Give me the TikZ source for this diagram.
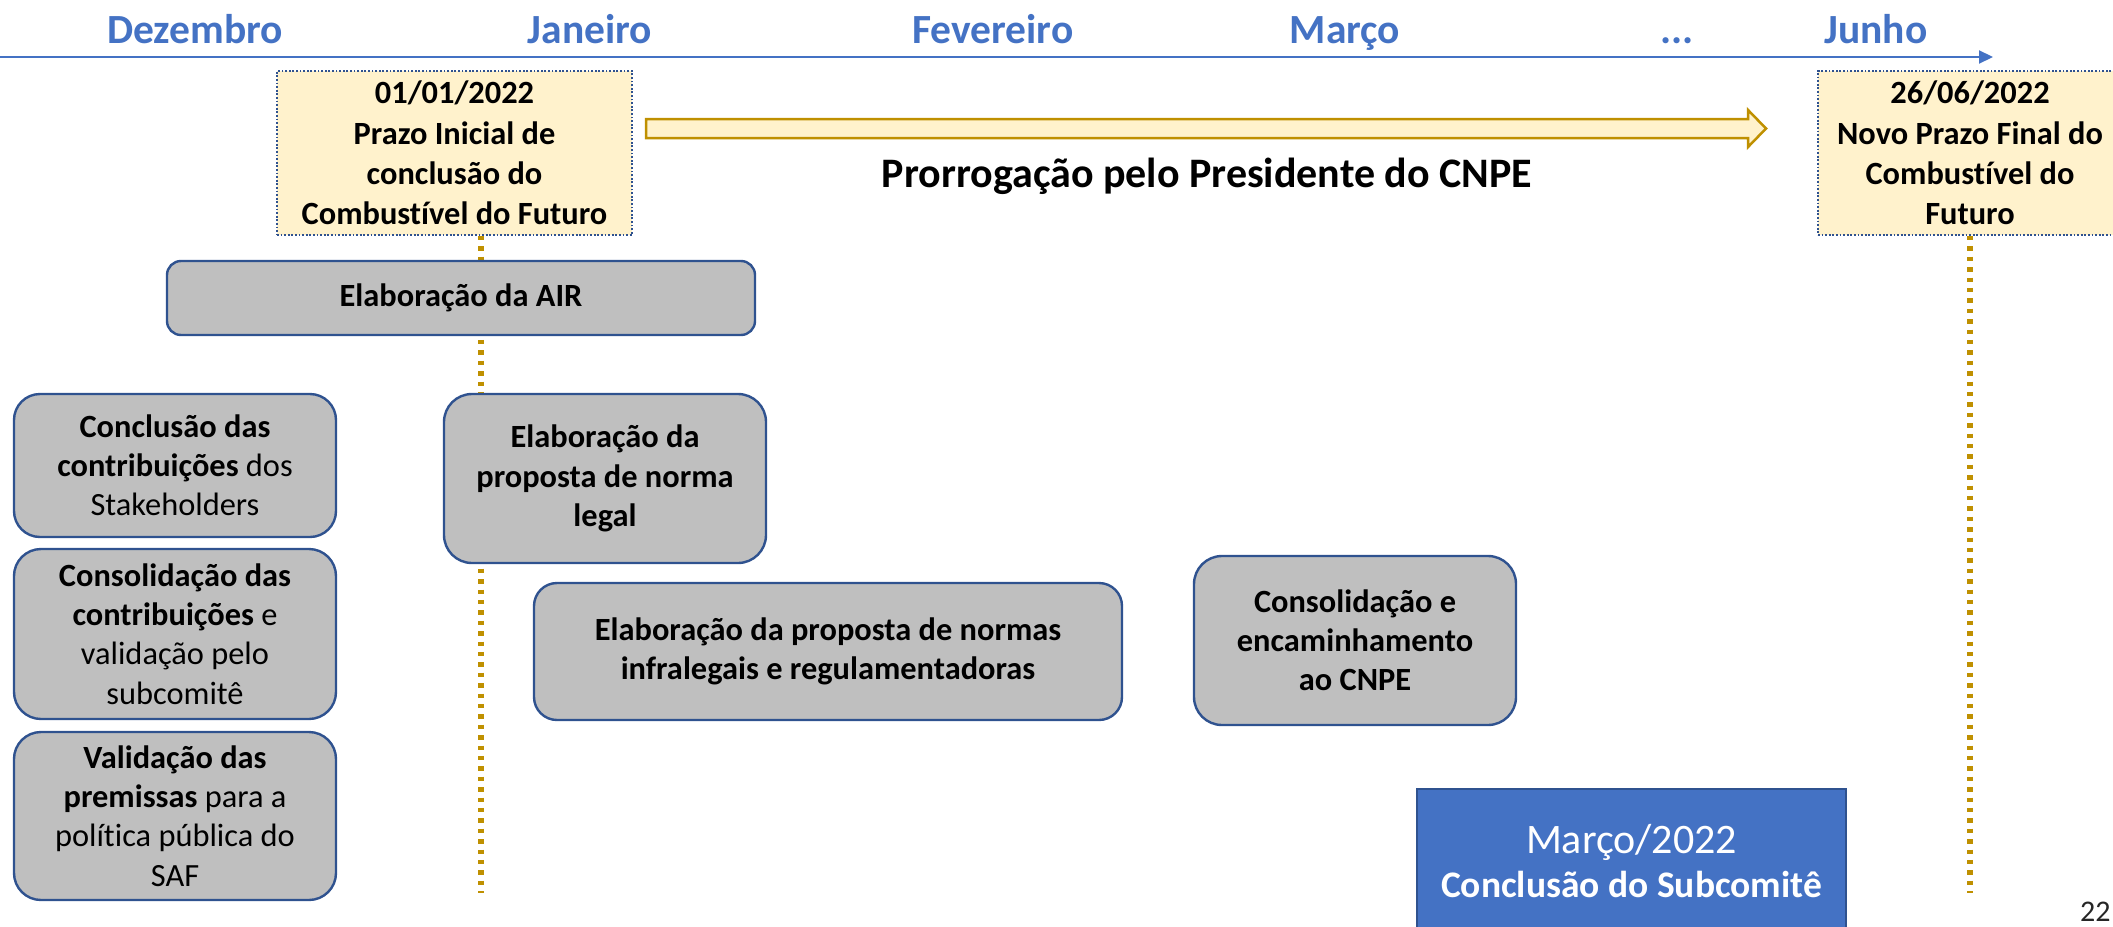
\documentclass[tikz,border=0pt]{standalone}
\usepackage{fontspec}
\setmainfont{Carlito}[Ligatures=NoCommon]
\usetikzlibrary{arrows.meta,backgrounds}
\definecolor{mblue}{HTML}{4472C4}
\definecolor{bborder}{HTML}{2F528F}
\definecolor{yfill}{HTML}{FFF2CC}
\definecolor{gold}{HTML}{BF9000}
\definecolor{gfill}{HTML}{BFBFBF}
\definecolor{pgnum}{HTML}{262626}
\begin{document}
\begin{tikzpicture}[x=0.5pt,y=-0.5pt,
  month/.style={font=\fontsize{20.75}{24}\selectfont\bfseries, text=mblue, anchor=base, inner sep=0pt},
  ybox/.style={draw=bborder, fill=yfill, line width=0.9pt, dash pattern=on 0.9pt off 0.9pt,
    align=center, font=\fontsize{16.2}{20.2}\selectfont\bfseries, inner sep=0pt},
  gbox/.style={draw=bborder, fill=gfill, line width=1.2pt, align=center,
    font=\fontsize{16.2}{19.6}\selectfont, inner sep=0pt},
  bluebox/.style={draw=bborder, fill=mblue, line width=1pt, align=center, text=white, inner sep=0pt},
  tline/.style={draw=mblue, line width=1pt, -{Triangle[length=7pt,width=6.5pt]}},
  goldline/.style={draw=gold, line width=2.8pt, dash pattern=on 2.2pt off 3pt},
  bigarrow/.style={draw=gold, fill=yfill, line width=1.25pt, line join=miter}
]
\useasboundingbox (0,0) rectangle (2113,926);
\clip (0,0) rectangle (2113,926);

% timeline
\coordinate (tl0) at (0,57);
\coordinate (tl1) at (1993,57);
\draw[tline] (tl0) -- (tl1);

% months
\node[month] (mdez) at (195,43) {Dezembro};
\node[month] (mjan) at (590,43) {Janeiro};
\node[month] (mfev) at (993,43) {Fevereiro};
\node[month] (mmar) at (1345,43) {Março};
\node[month] (mdots) at (1677,43) {...};
\node[month] (mjun) at (1876,43) {Junho};

% yellow boxes
\node[ybox, minimum width=177.5pt, minimum height=82pt] (b1) at (454.5,153)
  {01/01/2022\\Prazo Inicial de\\conclusão do\\Combustível do Futuro};
\node[ybox, minimum width=152pt, minimum height=82pt] (b2) at (1970,153)
  {26/06/2022\\Novo Prazo Final do\\Combustível do\\Futuro};

% big arrow
\draw[bigarrow] (646,119) -- (1748,119) -- (1748,110) -- (1766,128.5) -- (1748,147) -- (1748,138) -- (646,138) -- cycle;
\node[anchor=base, font=\fontsize{21}{25}\selectfont\bfseries, inner sep=0pt] (prorr) at (1207,187)
  {Prorrogação pelo Presidente do CNPE};

% grey boxes
\node[gbox, rounded corners=7pt, minimum width=294pt, minimum height=37pt] (air) at (461,298)
  {\textbf{Elaboração da AIR}};
\node[gbox, rounded corners=13pt, minimum width=161pt, minimum height=71.5pt] (conc) at (175,465.5)
  {\textbf{Conclusão das}\\\textbf{contribuições} dos\\Stakeholders};
\node[gbox, rounded corners=13.5pt, minimum width=161pt, minimum height=85pt] (cons) at (175,634)
  {\textbf{Consolidação das}\\\textbf{contribuições} e\\validação pelo\\subcomitê};
\node[gbox, rounded corners=13.5pt, minimum width=161pt, minimum height=84pt] (vali) at (175,816)
  {\textbf{Validação das}\\\textbf{premissas} para a\\política pública do\\SAF};
\node[gbox, rounded corners=14pt, minimum width=161pt, minimum height=84.5pt] (norma) at (605,478.5)
  {\textbf{Elaboração da}\\\textbf{proposta de norma}\\\textbf{legal}};
\node[gbox, rounded corners=11.5pt, minimum width=294pt, minimum height=68.5pt] (infra) at (828,651.5)
  {\textbf{Elaboração da proposta de normas}\\\textbf{infralegais e regulamentadoras}};
\node[gbox, rounded corners=14pt, minimum width=161pt, minimum height=84.5pt] (cnpe) at (1355,640.5)
  {\textbf{Consolidação e}\\\textbf{encaminhamento}\\\textbf{ao CNPE}};

% blue box
\node[bluebox, minimum width=214.5pt, minimum height=72pt] (blue) at (1631.5,861)
  {{\fontsize{21}{25}\selectfont Março/2022}\\[4pt]{\fontsize{18.75}{22.5}\selectfont\bfseries Conclusão do Subcomitê}};

% page number
\node[anchor=base east, inner sep=0pt, font=\fontsize{15}{18}\selectfont, text=pgnum] (pg) at (2111,921) {22};

% dotted gold lines (behind)
\coordinate (l1bot) at (481,893);
\coordinate (l2bot) at (1970,893);
\begin{pgfonlayer}{background}
\draw[goldline] (b1.south -| l1bot) -- (l1bot);
\draw[goldline] (b2.south) -- (l2bot);
\end{pgfonlayer}
\end{tikzpicture}
\end{document}
